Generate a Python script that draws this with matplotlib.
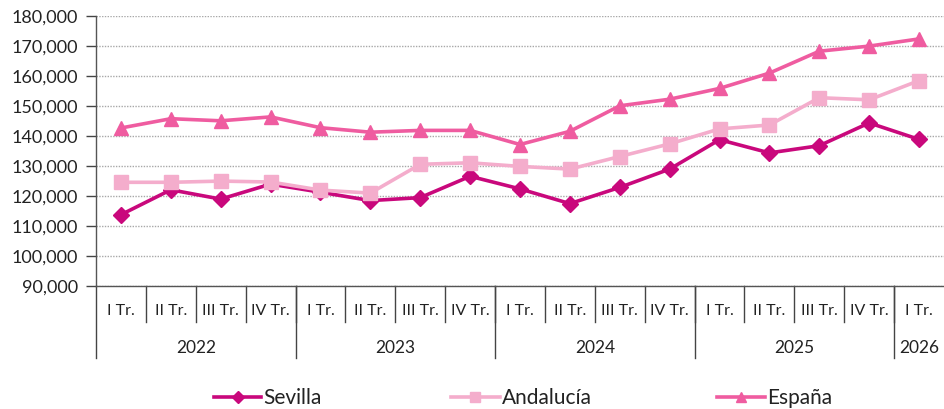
import matplotlib
matplotlib.use("Agg")
import matplotlib.pyplot as plt
from matplotlib.lines import Line2D
import matplotlib.transforms as mtransforms

plt.rcParams['font.family'] = ['Lato', 'DejaVu Sans']

quarters = ["I Tr.", "II Tr.", "III Tr.", "IV Tr.",
            "I Tr.", "II Tr.", "III Tr.", "IV Tr.",
            "I Tr.", "II Tr.", "III Tr.", "IV Tr.",
            "I Tr.", "II Tr.", "III Tr.", "IV Tr.",
            "I Tr."]
years = ["2022", "2023", "2024", "2025", "2026"]
year_counts = [4, 4, 4, 4, 1]

sevilla = [113600, 121900, 118800, 123800, 121100, 118300, 119300, 126400,
           122200, 117300, 122700, 128800, 138600, 134200, 136600, 144200, 138700]
andalucia = [124400, 124400, 124800, 124500, 121800, 120800, 130400, 130900,
             129700, 128800, 133000, 137200, 142200, 143500, 152600, 151900, 158300]
espana = [142500, 145600, 144900, 146200, 142600, 141100, 141700, 141700,
          137000, 141400, 149900, 152100, 155700, 160800, 168100, 169800, 172200]

series_names = ["Sevilla", "Andalucía", "España"]
c_sev = "#C9087C"
c_and = "#F4ADCC"
c_esp = "#EF5CA0"

fig = plt.figure(figsize=(9.44, 4.10), dpi=100)
W, H = 944, 410
ax = fig.add_axes([96 / W, 1 - 286.5 / H, (944 - 96) / W, (286.5 - 16.5) / H])

x = list(range(len(quarters)))
lw = 2.6
styles = [
    (sevilla, c_sev, "D", 8.3, 3),
    (andalucia, c_and, "s", 9.5, 4),
    (espana, c_esp, "^", 10, 3),
]
for vals, col, mk, ms, z in styles:
    ax.plot(x, vals, color=col, lw=lw, marker=mk, ms=ms, zorder=z)

ax.set_xlim(-0.5, len(quarters) - 0.5)
ax.set_ylim(90000, 180000)
ax.set_yticks(range(90000, 180001, 10000))
ax.set_yticklabels([f"{v:,}" for v in range(90000, 180001, 10000)], fontsize=13, color="#222222")
ax.yaxis.grid(True, linestyle=(0, (1, 1)), color="#A8A8A8", lw=1.0)
ax.set_axisbelow(True)
ax.tick_params(axis="y", direction="out", length=7, color="#444444", width=1, pad=6)
for s in ["top", "right"]:
    ax.spines[s].set_visible(False)
ax.spines["left"].set_color("#555555")
ax.spines["bottom"].set_color("#555555")
ax.spines["left"].set_linewidth(1)
ax.spines["bottom"].set_linewidth(1)
ax.set_xticks([])

# Multi-level category axis
trans = mtransforms.blended_transform_factory(ax.transData, fig.transFigure)
def fy(py):
    return 1 - py / H

y_axis = fy(286.5)
for i in range(1, len(quarters)):
    xb = i - 0.5
    ax.add_line(Line2D([xb, xb], [y_axis, fy(323)], transform=trans, color="#444444", lw=1, clip_on=False))
for i, q in enumerate(quarters):
    ax.text(i, fy(311), q, transform=trans, ha="center", va="center", fontsize=11.5, color="#222222")
start = 0
bounds = [-0.5]
for cnt in year_counts:
    start += cnt
    bounds.append(start - 0.5)
for b in bounds[:-1]:
    ax.add_line(Line2D([b, b], [y_axis, fy(359)], transform=trans, color="#444444", lw=1, clip_on=False))
for k, yr in enumerate(years):
    xc = (bounds[k] + bounds[k + 1]) / 2
    ax.text(xc, fy(348), yr, transform=trans, ha="center", va="center", fontsize=12.5, color="#222222")

# Legend drawn manually in figure pixel positions
leg_x = [(214, 261), (451, 500), (717, 765)]
leg_y = fy(398)
for (vals, col, mk, ms, z), name, (x0, x1) in zip(styles, series_names, leg_x):
    fig.add_artist(Line2D([x0 / W, x1 / W], [leg_y, leg_y], transform=fig.transFigure,
                          color=col, lw=lw))
    fig.add_artist(Line2D([(x0 + x1) / 2 / W], [leg_y], transform=fig.transFigure,
                          color=col, marker=mk, ms=ms * 0.75, lw=0))
    fig.text((x1 + 2) / W, leg_y, name, ha="left", va="center", fontsize=15, color="#222222")

fig.savefig("out.png", dpi=100)
